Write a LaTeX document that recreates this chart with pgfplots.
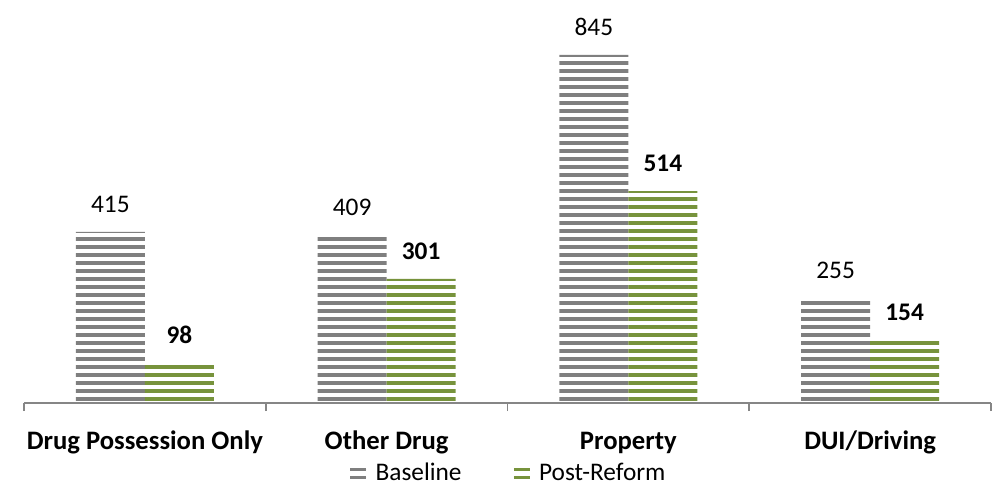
\documentclass[border=0pt]{standalone}
\usepackage{pgfplots}
\pgfplotsset{compat=1.18}
\usepackage{fontspec}
\setmainfont{Carlito}
\usetikzlibrary{patterns.meta}
\definecolor{basegray}{RGB}{127,127,127}
\definecolor{postgreen}{RGB}{119,147,60}
\definecolor{axgray}{RGB}{134,134,134}
\begin{document}
\begin{tikzpicture}
\path[use as bounding box] (-18pt,-63pt) rectangle (727.5pt,302.25pt);
\begin{axis}[
  at={(0pt,0pt)}, anchor=south west,
  scale only axis,
  width=725.25pt, height=302.25pt,
  ymin=0, ymax=978,
  xmin=-0.5, xmax=3.5,
  axis y line=none,
  axis x line*=bottom,
  x axis line style={axgray, line width=1.4pt},
  ybar=0pt, bar width=51.75pt,
  xtick={0,1,2,3},
  xticklabels={Drug Possession Only, Other Drug, Property, DUI/Driving},
  minor xtick={-0.5,0.5,1.5,2.5,3.5},
  major tick length=0pt,
  minor tick length=6pt,
  tick align=outside,
  minor tick style={axgray, line width=1.2pt},
  xticklabel style={font=\fontsize{20}{24}\selectfont\bfseries, anchor=base, yshift=-34.5pt, inner sep=0pt},
  /pgf/number format/assume math mode=true,
  nodes near coords,
  nodes near coords style={font=\fontsize{19}{23}\selectfont, anchor=base, yshift=14.5pt, inner sep=0pt, text=black},
  legend columns=2,
  legend style={draw=none, fill=none, at={(0.501,-0.174)}, anchor=center,
    font=\fontsize{19}{23}\selectfont, /tikz/every even column/.append style={column sep=36pt},
    inner sep=0pt},
  legend cell align=left,
]
\addplot[draw=none, pattern={Lines[angle=0, distance=6pt, line width=2.4pt]}, pattern color=basegray,
  legend image code/.code={\draw[basegray, line width=2.2pt] (0pt,-3.6pt) -- (12pt,-3.6pt) (0pt,3pt) -- (12pt,3pt); \path (17pt,0pt);}]
  coordinates {(0,415) (1,409) (2,845) (3,255)};
\addplot[draw=none, pattern={Lines[angle=0, distance=6pt, line width=2.4pt]}, pattern color=postgreen,
  nodes near coords style={font=\fontsize{19}{23}\selectfont\bfseries},
  legend image code/.code={\draw[postgreen, line width=2.2pt] (0pt,-3.6pt) -- (12pt,-3.6pt) (0pt,3pt) -- (12pt,3pt); \path (17pt,0pt);}]
  coordinates {(0,98) (1,301) (2,514) (3,154)};
\legend{Baseline, Post-Reform}
\end{axis}
\end{tikzpicture}
\end{document}
